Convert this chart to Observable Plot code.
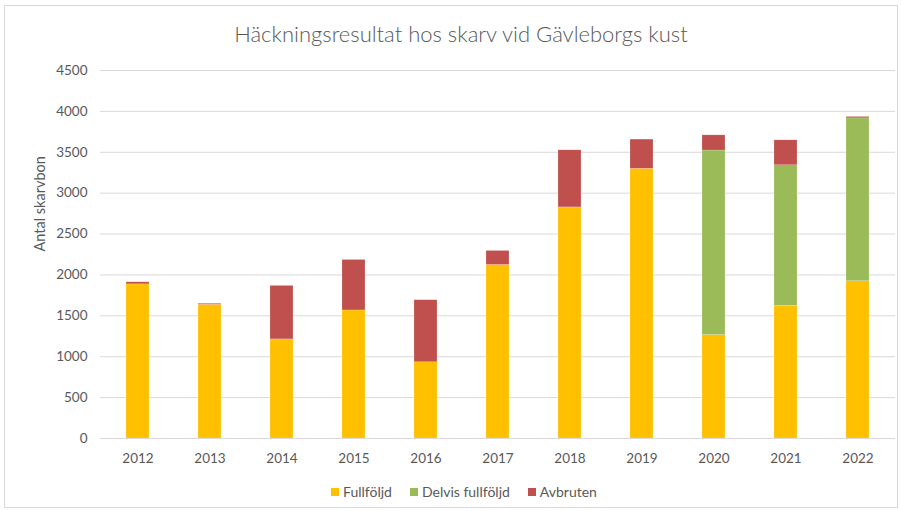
<!DOCTYPE html>
<html>
<head>
<meta charset="utf-8">
<script src="https://cdn.jsdelivr.net/npm/d3@7"></script>
<script src="https://cdn.jsdelivr.net/npm/@observablehq/plot@0.6"></script>
<style>
  html, body { margin: 0; padding: 0; background: #fff; }
  #wrap { position: relative; width: 901px; height: 511px; overflow: hidden; font-family: Lato, "Open Sans", sans-serif; }
  #border { position: absolute; left: 4px; top: 5px; width: 894px; height: 503px; border: 1px solid #d9d9d9; box-sizing: border-box; }
  #title { position: absolute; left: 0; width: 922px; top: 20px; text-align: center; font-size: 22px; color: #595959; font-weight: 300; }
  #legend { position: absolute; left: 331px; top: 483px; display: flex; align-items: center; font-size: 14px; color: #595959; }
  .sw { width: 8px; height: 8px; display: inline-block; margin-right: 4px; }
  .item { display: flex; align-items: center; margin-right: 18px; }
  #chart { position: absolute; left: 0; top: 0; }
</style>
</head>
<body>
<div id="wrap">
  <div id="border"></div>
  <div id="chart"></div>
  <div id="title">Häckningsresultat hos skarv vid Gävleborgs kust</div>
  <div id="legend"></div>
</div>
<script>
const years = ["2012","2013","2014","2015","2016","2017","2018","2019","2020","2021","2022"];
const fullfoljd = [1885, 1635, 1212, 1566, 932, 2122, 2826, 3298, 1265, 1622, 1923];
const delvis    = [0, 0, 0, 0, 0, 0, 0, 0, 2256, 1719, 1992];
const avbruten  = [25, 12, 654, 617, 759, 171, 698, 357, 186, 305, 17];
const seriesNames = ["Fullföljd", "Delvis fullföljd", "Avbruten"];
const seriesColors = ["#FFC000", "#9BBB59", "#C0504D"];
const yTicks = [0, 500, 1000, 1500, 2000, 2500, 3000, 3500, 4000, 4500];

const seriesValues = [fullfoljd, delvis, avbruten];
const data = [];
years.forEach((yr, i) => {
  seriesNames.forEach((s, j) => {
    data.push({year: yr, series: s, value: seriesValues[j][i]});
  });
});

const plot = Plot.plot({
  width: 901,
  height: 511,
  marginLeft: 100,
  marginRight: 6,
  marginTop: 70,
  marginBottom: 73,
  style: {fontFamily: "Lato, 'Open Sans', sans-serif", fontSize: "13.5px", color: "#595959", background: "transparent"},
  x: {domain: years, paddingInner: 0.68, paddingOuter: 0.34, label: null},
  y: {domain: [0, 4500], label: null},
  color: {domain: seriesNames, range: seriesColors},
  marks: [
    Plot.gridY(yTicks, {stroke: "#d9d9d9", strokeOpacity: 1, strokeWidth: 1}),
    Plot.barY(data, {x: "year", y: "value", fill: "series", order: seriesNames, stroke: "#fff", strokeOpacity: 0.35, strokeWidth: 0.5}),
    Plot.ruleY([0], {stroke: "#d9d9d9", strokeWidth: 1}),
    Plot.axisX({tickSize: 0, tickPadding: 15, label: null, fontSize: 13.5, fill: "#595959"}),
    Plot.axisY(yTicks, {tickSize: 0, tickPadding: 13, label: null, tickFormat: d => String(d), fontSize: 13.5, fill: "#595959"}),
    Plot.text(["Antal skarvbon"], {frameAnchor: "left", dx: -60, dy: -3, rotate: -90, fontSize: 14.5, fill: "#595959"})
  ]
});
document.getElementById("chart").appendChild(plot);

const legend = document.getElementById("legend");
seriesNames.forEach((s, j) => {
  const it = document.createElement("div");
  it.className = "item";
  const sw = document.createElement("span");
  sw.className = "sw";
  sw.style.background = seriesColors[j];
  it.appendChild(sw);
  it.appendChild(document.createTextNode(s));
  legend.appendChild(it);
});
</script>
</body>
</html>
